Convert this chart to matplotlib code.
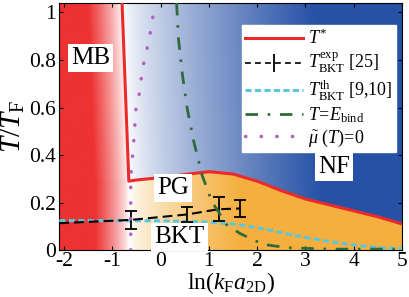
import numpy as np
import matplotlib
matplotlib.use("Agg")
import matplotlib.pyplot as plt

plt.rcParams['font.family'] = ['Liberation Serif', 'DejaVu Serif']
plt.rcParams['mathtext.fontset'] = 'custom'
plt.rcParams['mathtext.rm'] = 'Liberation Serif'
plt.rcParams['mathtext.it'] = 'Liberation Serif:italic'
plt.rcParams['axes.unicode_minus'] = False

# T* line (vertical part then the crossover curve)
tstar_x = [-0.80, -0.66, -0.5, 0.0, 0.5, 1.0, 1.5, 2.0, 2.5, 3.0, 3.5, 4.0, 4.5, 5.0]
tstar_T = [1.04, 0.29, 0.295, 0.305, 0.318, 0.33, 0.32, 0.29, 0.25, 0.215, 0.19, 0.165, 0.14, 0.11]

# experimental BKT points [25]
exp_line_x = [-2.1, -0.62, 0.55, 1.2, 1.65]
exp_line_T = [0.113, 0.127, 0.15, 0.172, 0.175]
exp_x = [-0.62, 0.55, 1.2, 1.65]
exp_T = [0.127, 0.15, 0.172, 0.175]
exp_err = [0.037, 0.03, 0.05, 0.035]

# theoretical BKT [9,10]
th_x = [-2.1, -1.0, 0.0, 0.5, 1.0, 1.5, 2.0, 2.5, 3.0, 3.5, 4.0, 4.5, 5.0]
th_T = [0.124, 0.124, 0.123, 0.121, 0.117, 0.11, 0.095, 0.073, 0.053, 0.036, 0.021, 0.011, 0.005]

# T = E_bind
eb_x = [0.33, 0.37, 0.45, 0.55, 0.69, 0.86, 1.06, 1.37, 1.65, 2.12, 2.63, 3.45, 5.0]
eb_T = [1.04, 0.886, 0.739, 0.596, 0.453, 0.314, 0.204, 0.106, 0.069, 0.024, 0.01, 0.004, 0.004]

# mu~(T) = 0
mu_x = [-0.62, -0.62, -0.6, -0.57, -0.55, -0.51, -0.45, -0.41, -0.37, -0.3, -0.24, -0.18, -0.13]
mu_T = [0.0, 0.3, 0.36, 0.42, 0.48, 0.6, 0.65, 0.71, 0.77, 0.83, 0.89, 0.95, 1.04]

xlim = (-2.1, 5.0)
ylim = (0.0, 1.04)

# background shading built from the T* boundary
red = np.array([0.93, 0.20, 0.20])
blue = np.array([0.15, 0.32, 0.65])
orange = np.array([0.96, 0.69, 0.25])
white = np.ones(3)

gx = np.linspace(xlim[0], xlim[1], 720)
gy = np.linspace(ylim[0], ylim[1], 420)
X, Y = np.meshgrid(gx, gy)
xb = np.where(Y > tstar_T[1],
              np.interp(Y, tstar_T[1::-1], tstar_x[1::-1]),
              -0.65)
curve = np.interp(X, tstar_x[1:], tstar_T[1:])
w_red = np.clip((xb - X) / 0.7, 0, 1) ** 0.8
w_blue = np.clip((X - xb) / 4.0, 0, 1) ** 0.75
w_or = np.clip((X - xb) / 2.3, 0, 1) ** 0.7
img = np.empty(X.shape + (3,))
left = X < xb
above = (~left) & (Y > curve)
below = (~left) & ~above
img[left] = white + (red - white) * w_red[left][:, None]
img[above] = white + (blue - white) * w_blue[above][:, None]
img[below] = white + (orange - white) * w_or[below][:, None]

fig = plt.figure(figsize=(4.09, 2.97), dpi=100)
ax = fig.add_axes([0.145, 0.158, 0.838, 0.832])
ax.imshow(img, origin='lower', extent=[xlim[0], xlim[1], ylim[0], ylim[1]],
          aspect='auto', interpolation='bilinear', zorder=0)

ax.plot(tstar_x, tstar_T, color='#ec2a2a', lw=2.2, zorder=3)
ax.plot(th_x, th_T, color='#5cc6da', lw=2.2, ls=(0, (2.0, 1.1)), zorder=4)
ax.plot(exp_line_x, exp_line_T, color='k', lw=1.5, ls=(0, (4.7, 2.4)), zorder=5)
ax.errorbar(exp_x, exp_T, yerr=exp_err, fmt='none', ecolor='k', elinewidth=1.3,
            capsize=4, capthick=1.3, zorder=5)
ax.plot(eb_x, eb_T, color='#2f6a3a', lw=2.0, ls=(0, (4.5, 3.5, 0.9, 3.5)), zorder=6)
ax.plot(mu_x, mu_T, color='#b560c0', lw=2.5, ls=(0, (0.1, 4.4)),
        dash_capstyle='round', zorder=7)

# legend handles
h_star, = ax.plot([], [], color='#ec2a2a', lw=2.2)
h_exp = ax.errorbar([], [], yerr=[], color='k', lw=1.2, ls=(0, (3.5, 2.5)),
                    capsize=4, elinewidth=1.3)
h_th, = ax.plot([], [], color='#5cc6da', lw=2.2, ls=(0, (2.0, 1.1)))
h_eb, = ax.plot([], [], color='#2f6a3a', lw=2.0, ls=(0, (4.5, 3.5, 0.9, 3.5)))
h_mu, = ax.plot([], [], color='#b560c0', lw=2.5, ls=(0, (0.1, 4.4)),
                dash_capstyle='round')
leg = ax.legend([h_star, h_exp, h_th, h_eb, h_mu],
                [r'$T^{*}$', r'$T_{\mathrm{BKT}}^{\mathrm{exp}}$ [25]',
                 r'$T_{\mathrm{BKT}}^{\mathrm{th}}$ [9,10]',
                 r'$T\!=\!E_{\mathrm{bind}}$', r'$\tilde{\mu}\ (T)\!=\!0$'],
                loc='upper right', bbox_to_anchor=(0.983, 0.91), borderaxespad=0,
                fontsize=13, handlelength=3.2, handletextpad=0.3, labelspacing=0.15,
                borderpad=0.2, fancybox=False, framealpha=1, edgecolor='white')
leg.set_zorder(10)

box = dict(facecolor='white', edgecolor='none', boxstyle='square,pad=0.12')
ax.text(-1.45, 0.81, 'MB', fontsize=18, ha='center', va='center', bbox=box, zorder=8)
ax.text(0.25, 0.26, 'PG', fontsize=18, ha='center', va='center', bbox=box, zorder=8)
ax.text(0.39, 0.057, 'BKT', fontsize=18, ha='center', va='center', bbox=box, zorder=8)
ax.text(3.6, 0.35, 'NF', fontsize=18, ha='center', va='center', bbox=box, zorder=8)

ax.set_xlim(*xlim)
ax.set_ylim(*ylim)
ax.set_xticks([-2, -1, 0, 1, 2, 3, 4, 5])
ax.set_xticklabels(['-2', '-1', '0', '1', '2', '3', '4', '5'])
ax.set_yticks([0, 0.2, 0.4, 0.6, 0.8, 1.0])
ax.set_yticklabels(['0', '0.2', '0.4', '0.6', '0.8', '1'])
ax.tick_params(direction='in', top=True, right=True, labelsize=15.5, length=3, pad=1.5)
ax.tick_params(axis='y', pad=2.5)
ax.set_xlabel(r'$\mathrm{ln}(k_{\mathrm{F}}a_{\mathrm{2D}})$', fontsize=17)
ax.xaxis.set_label_coords(0.5, -0.082)
ax.set_ylabel(r'$T/T_{\mathrm{F}}$', fontsize=21, labelpad=1)

fig.savefig('out.png', dpi=100)
